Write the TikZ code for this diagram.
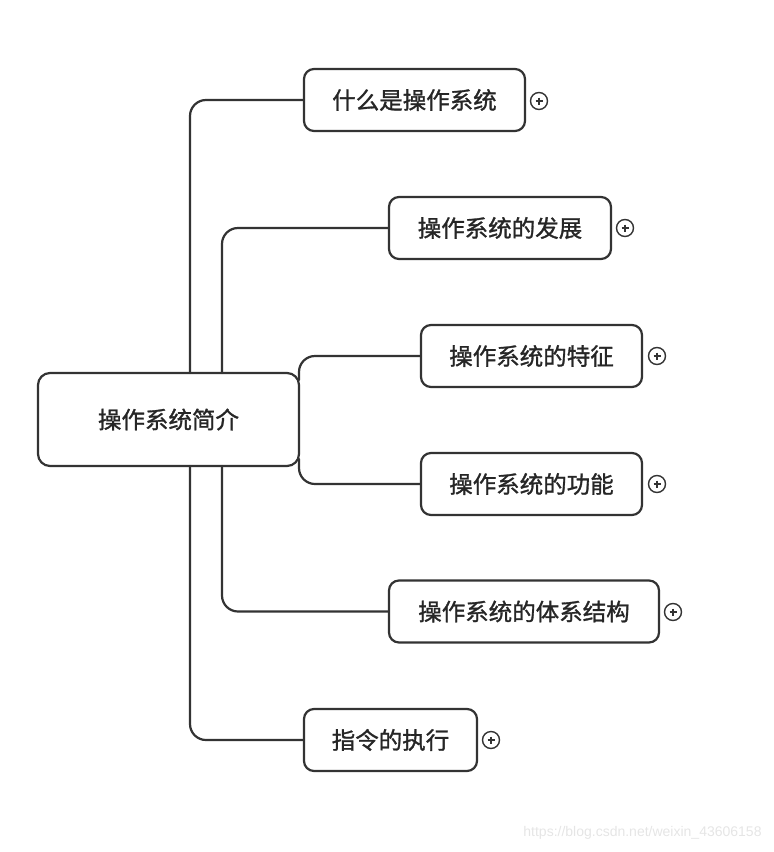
\documentclass[tikz,border=0pt]{standalone}
\usepackage{fontspec}
\setmainfont{Liberation Sans}
\newfontfamily\cjk[FakeBold=1.2]{Noto Sans CJK SC}
\begin{document}
\begin{tikzpicture}[x=1pt,y=-1pt,
  line width=2.2pt,
  lc/.style={draw=black!80, rounded corners=16pt, line cap=round},
  box/.style={draw=black!80, fill=white, rounded corners=10pt, minimum height=62pt, inner sep=0pt, font=\cjk\fontsize{23.5}{26}\selectfont, text=black!85},
  plusicon/.style={circle, draw=black!80, line width=1.4pt, minimum size=17pt, inner sep=0pt}
]
\useasboundingbox (0,0) rectangle (774,852);
% connector anchor coordinates
\coordinate (t1) at (190,373);
\coordinate (t2) at (222,373);
\coordinate (b1) at (190,466);
\coordinate (b2) at (222,466);
\coordinate (r3) at (299,380);
\coordinate (r4) at (299,459);
% central node
\node[box, minimum width=261pt, minimum height=93pt, rounded corners=12pt] (c) at (168.5,419.5) {操作系统简介};
% child nodes
\node[box, minimum width=221pt] (n1) at (414.5,100) {什么是操作系统};
\node[box, minimum width=222pt] (n2) at (500,228) {操作系统的发展};
\node[box, minimum width=221pt] (n3) at (531.5,356) {操作系统的特征};
\node[box, minimum width=221pt] (n4) at (531.5,484) {操作系统的功能};
\node[box, minimum width=270pt] (n5) at (524,611.5) {操作系统的体系结构};
\node[box, minimum width=173pt] (n6) at (390.5,740) {指令的执行};
% connectors
\draw[lc] (t1) |- (n1.west);
\draw[lc] (t2) |- (n2.west);
\draw[lc] (r3) |- (n3.west);
\draw[lc] (r4) |- (n4.west);
\draw[lc] (b2) |- (n5.west);
\draw[lc] (b1) |- (n6.west);
% plus icons
\foreach \n/\x/\y in {p1/539/101, p2/625/228, p3/657/356, p4/657/484, p5/673/612, p6/491/740}{
  \node[plusicon] (\n) at (\x,\y) {};
  \draw[line width=1.3pt, black!80] (\x-3.5,\y) -- (\x+3.5,\y) (\x,\y-3.5) -- (\x,\y+3.5);
}
% watermark
\node[text=black!10, font=\fontsize{14}{16}\selectfont, anchor=east] (wm) at (766,833) {https://blog.csdn.net/weixin\_43606158};
\end{tikzpicture}
\end{document}
